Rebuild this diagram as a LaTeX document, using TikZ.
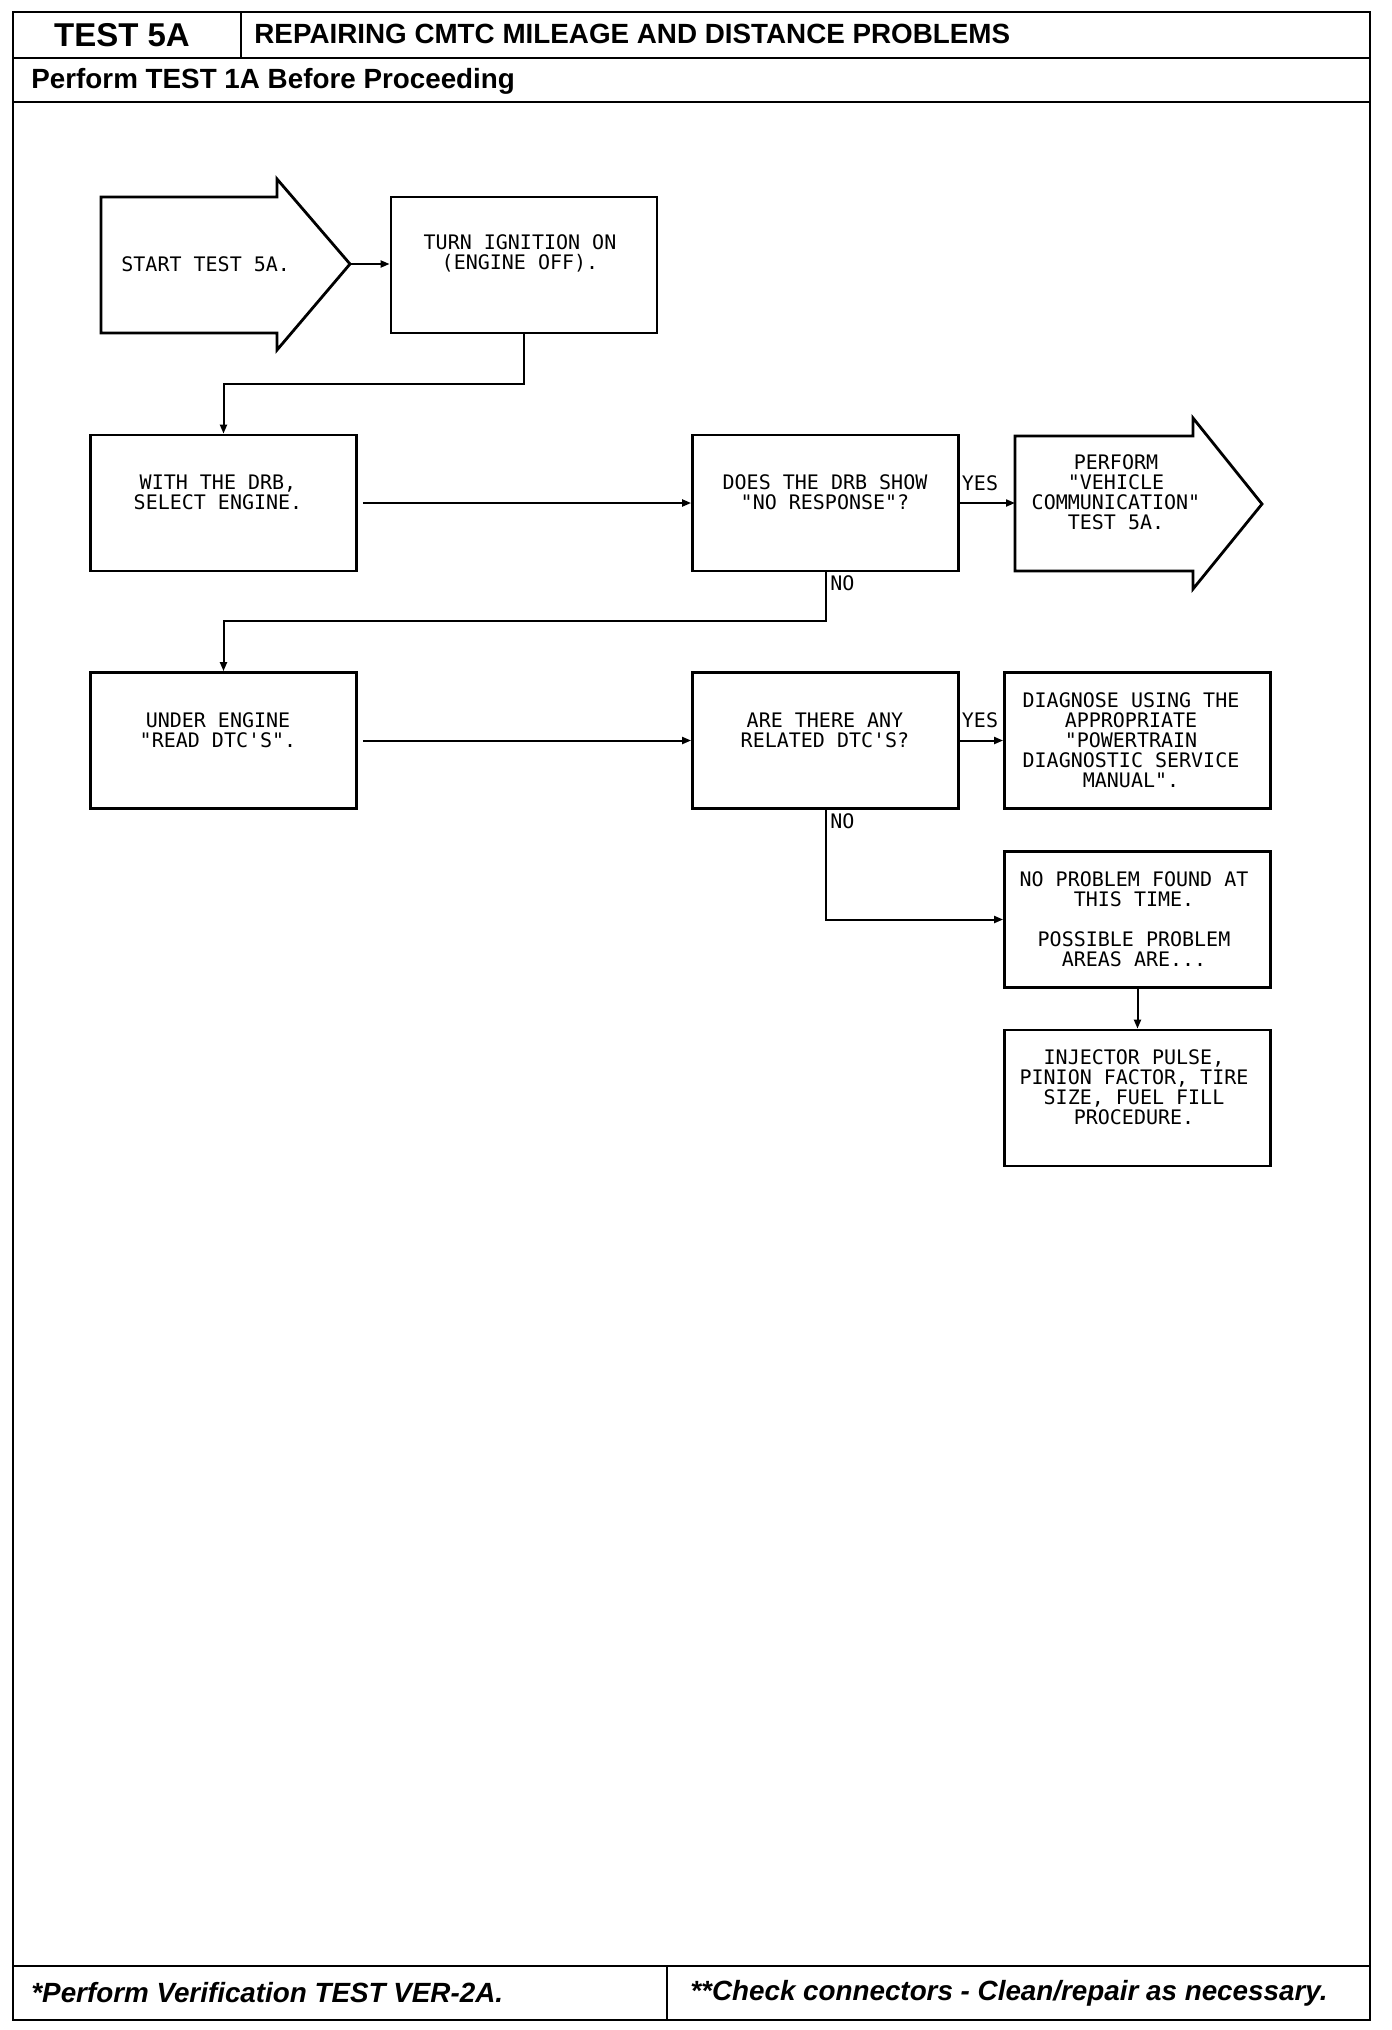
\documentclass[tikz,border=0pt]{standalone}
\usepackage{fontspec}
\setmainfont{Liberation Sans}
\newfontfamily\plotfont{DejaVu Sans Mono}
\usetikzlibrary{arrows.meta}
\begin{document}
\begin{tikzpicture}[x=0.5pt,y=-0.5pt,
  frame/.style={line width=1.3pt},
  box/.style={draw,line width=1.4pt,minimum width=133pt,minimum height=68pt,inner sep=0pt},
  bigarrow/.style={line width=1.4pt,line join=miter},
  txt/.style={font=\plotfont\fontsize{10}{10}\selectfont,align=center,inner sep=0pt},
  lbl/.style={font=\plotfont\fontsize{10}{10}\selectfont,inner sep=0pt},
  arr/.style={line width=1pt,-{Triangle[length=4.5pt,width=3.5pt]}},
  hdr/.style={font=\bfseries\fontsize{13.9}{16}\selectfont,inner sep=0pt,anchor=west},
  ftr/.style={font=\bfseries\itshape\fontsize{13.9}{16}\selectfont,inner sep=0pt,anchor=west}
]
\useasboundingbox (0,0) rectangle (1392,2030);
% frame
\draw[frame] (13,12) rectangle (1370,2020);
\draw[frame] (13,58) -- (1370,58);
\draw[frame] (241,12) -- (241,58);
\draw[frame] (13,102) -- (1370,102);
\draw[frame] (13,1966) -- (1370,1966);
\draw[frame] (667,1966) -- (667,2020);
\node[font=\bfseries\fontsize{16.5}{18}\selectfont,inner sep=0pt] (testid) at (122,35) {TEST 5A};
\node[hdr] (title) at (254,34) {REPAIRING CMTC MILEAGE AND DISTANCE PROBLEMS};
\node[hdr] (pre) at (31,81) {Perform TEST 1A Before Proceeding};
\node[ftr] (fl) at (31,1993) {*Perform Verification TEST VER-2A.};
\node[ftr] (fr) at (690,1993) {**Check connectors - Clean/repair as necessary.};

% start arrow
\draw[bigarrow] (101,197) -- (277,197) -- (277,179) -- (350,264) -- (277,350) -- (277,333) -- (101,333) -- cycle;
\coordinate (starttip) at (350,264);
\node[lbl,anchor=west] (starttxt) at (121,264) {START TEST 5A.};

% perform arrow
\draw[bigarrow] (1015,436) -- (1193,436) -- (1193,418) -- (1262,504) -- (1193,589) -- (1193,571) -- (1015,571) -- cycle;
\coordinate (perfin) at (1015,504);
\node[txt] (perftxt) at (1116,492.5) {PERFORM\\"VEHICLE\\COMMUNICATION"\\TEST 5A.};

% boxes
\node[box] (turn) at (524,265) {};
\node[txt] (turntxt) at (520,253.5) {TURN IGNITION ON\\(ENGINE OFF).};
\node[box] (with) at (223.5,503) {};
\node[txt] (withtxt) at (218,492.5) {WITH THE DRB,\\SELECT ENGINE.};
\node[box] (does) at (825.5,503) {};
\node[txt] (doestxt) at (825,492.5) {DOES THE DRB SHOW\\"NO RESPONSE"?};
\node[box] (under) at (223.5,740.5) {};
\node[txt] (undertxt) at (218,730.5) {UNDER ENGINE\\"READ DTC'S".};
\node[box] (are) at (825.5,740.5) {};
\node[txt] (aretxt) at (825,730.5) {ARE THERE ANY\\RELATED DTC'S?};
\node[box] (diag) at (1137.5,740.5) {};
\node[txt] (diagtxt) at (1131,740.5) {DIAGNOSE USING THE\\APPROPRIATE\\"POWERTRAIN\\DIAGNOSTIC SERVICE\\MANUAL".};
\node[box] (nop) at (1137.5,919.5) {};
\node[txt] (noptxt) at (1134,919.5) {NO PROBLEM FOUND AT\\THIS TIME.\\[10pt]POSSIBLE PROBLEM\\AREAS ARE...};
\node[box] (inj) at (1137.5,1098) {};
\node[txt] (injtxt) at (1134,1087.5) {INJECTOR PULSE,\\PINION FACTOR, TIRE\\SIZE, FUEL FILL\\PROCEDURE.};

% connectors
\draw[arr] (starttip) -- (turn.west |- starttip);
\draw[arr] (turn.south) -- ++(0,50) -| (with.north);
\draw[arr,shorten <=2.5pt] (with.east) -- (does.west);
\draw[arr] (does.east) -- (does.east -| perfin);
\node[lbl] (yes1) at (980,483) {YES};
\draw[arr] (does.south) -- ++(0,49) -| (under.north);
\node[lbl,anchor=west] (no1) at (830,583) {NO};
\draw[arr,shorten <=2.5pt] (under.east) -- (are.west);
\draw[arr] (are.east) -- (diag.west);
\node[lbl] (yes2) at (980,720) {YES};
\draw[arr] (are.south) |- (nop.west);
\node[lbl,anchor=west] (no2) at (830,821) {NO};
\draw[arr] (nop.south) -- (inj.north);
\end{tikzpicture}
\end{document}
